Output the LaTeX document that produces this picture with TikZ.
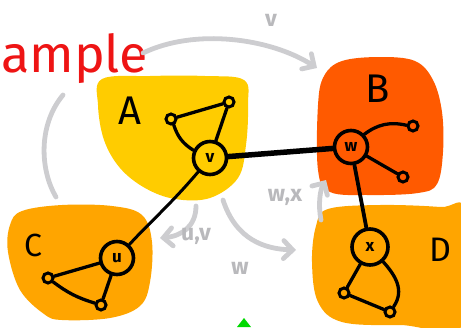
\documentclass[tikz,border=0pt]{standalone}
\usepackage{fontspec}
\setmainfont{Fira Sans}
\usetikzlibrary{arrows.meta}
\definecolor{yelA}{RGB}{255,204,0}
\definecolor{redB}{RGB}{255,90,0}
\definecolor{orCD}{RGB}{255,165,0}
\definecolor{lgray}{RGB}{205,205,208}
\definecolor{tgray}{RGB}{185,185,188}
\definecolor{redtxt}{RGB}{238,20,20}
\begin{document}
\begin{tikzpicture}[x=1pt,y=-1pt,
 big/.style={circle,draw=black,line width=3.6pt,minimum size=33pt,inner sep=0pt,font=\fontsize{17}{17}\selectfont\bfseries},
 small/.style={circle,draw=black,line width=3pt,minimum size=10pt,inner sep=0pt},
 edge/.style={line width=3.3pt,line cap=round},
 garrow/.style={draw=lgray,line width=4.8pt,line cap=round,-{Straight Barb[length=9pt,width=18pt,line cap=round]}},
 gline/.style={draw=lgray,line width=4.8pt,line cap=round},
 glabel/.style={text=tgray,font=\fontsize{23}{23}\selectfont\bfseries,inner sep=0pt},
 biglabel/.style={font=\fontsize{40}{40}\selectfont,inner sep=0pt}
]
\useasboundingbox (0,0) rectangle (461,327);
% blobs
\fill[yelA] plot[smooth cycle,tension=0.6] coordinates {(102,79) (150,76) (205,76) (244,80) (248,105) (246,145) (238,178) (210,198) (175,199) (145,188) (120,168) (104,140) (98,105)};
\fill[redB] plot[smooth cycle,tension=0.6] coordinates {(342,61) (380,57) (415,61) (433,80) (442,112) (443,152) (437,184) (418,193) (370,195) (330,192) (318,170) (318,105) (324,76)};
\fill[orCD] plot[smooth cycle,tension=0.6] coordinates {(22,211) (62,205) (112,206) (142,215) (152,242) (150,282) (140,306) (110,318) (62,320) (44,314) (20,290) (8,252) (10,225)};
\fill[orCD] plot[smooth cycle,tension=0.6] coordinates {(328,209) (380,205) (440,207) (466,212) (466,322) (400,325) (342,322) (318,302) (312,262) (316,226)};
% red text
\node[anchor=base west,inner sep=0pt,text=redtxt,font=\fontsize{52}{52}\selectfont] (title) at (1,72) {ample};
% gray arrows
\coordinate (t0) at (143,53);
\coordinate (t1) at (317,68);
\draw[garrow] (t0) .. controls (195,28) and (270,38) .. (t1);
\coordinate (l0) at (63,95);
\coordinate (l1) at (56,197);
\draw[gline] (l0) .. controls (38,125) and (40,170) .. (l1);
\coordinate (uv0) at (196,206);
\coordinate (uv1) at (160,238);
\draw[garrow] (uv0) .. controls (196,226) and (182,236) .. (uv1);
\coordinate (w0) at (223,200);
\coordinate (w1) at (296,250);
\draw[garrow] (w0) .. controls (236,240) and (265,249) .. (w1);
\coordinate (wx0) at (321,220);
\coordinate (wx1) at (326,180);
\draw[garrow] (wx0) .. controls (318,205) and (320,190) .. (wx1);
\node[glabel] (lv) at (271,20) {v};
\node[glabel] (luv) at (196,236) {u,v};
\node[glabel] (lw) at (240,268) {w};
\node[glabel] (lwx) at (285,197) {w,x};
% big labels
\node[biglabel] (LA) at (130,111) {A};
\node[biglabel] (LB) at (378,89) {B};
\node[biglabel,font=\fontsize{32}{32}\selectfont] (LC) at (33,245) {C};
\node[biglabel,font=\fontsize{34}{34}\selectfont] (LD) at (440,250) {D};
% nodes
\node[big] (v) at (210,158) {v};
\node[big] (w) at (351,147) {w};
\node[big] (u) at (117,258) {u};
\node[big,minimum size=36pt] (x) at (370,247) {x};
\node[small] (a1) at (171,119) {};
\node[small] (a2) at (229,102) {};
\node[small] (b1) at (413,126) {};
\node[small] (b2) at (403,177) {};
\node[small] (c1) at (48,278) {};
\node[small] (c2) at (101,305) {};
\node[small] (d1) at (344,293) {};
\node[small] (d2) at (390,312) {};
% edges
\draw[edge,line width=5.5pt] (v) -- (w);
\draw[edge,line width=3pt] (u) .. controls (150,222) and (170,205) .. (v);
\draw[edge,line width=3.8pt] (w) -- (x);
\draw[edge] (a1) -- (a2);
\draw[edge] (a2) -- (v);
\draw[edge] (a1) to[bend right=20] (v);
\draw[edge] (w) to[bend left=25] (b1);
\draw[edge] (w) -- (b2);
\draw[edge] (u) -- (c1);
\draw[edge] (c1) to[bend right=10] (c2);
\draw[edge] (c2) -- (u);
\draw[edge] (x) -- (d1);
\draw[edge] (d1) -- (d2);
\draw[edge] (x) .. controls (395,275) and (405,290) .. (d2);
% green mark
\fill[green!85!black] (237,327) -- (244,318) -- (251,327) -- cycle;
\end{tikzpicture}
\end{document}
